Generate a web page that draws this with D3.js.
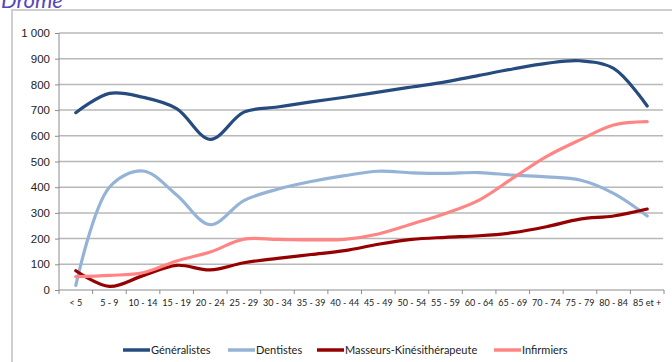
<!DOCTYPE html>
<html>
<head>
<meta charset="utf-8">
<script src="https://cdn.jsdelivr.net/npm/d3@7/dist/d3.min.js"></script>
<style>
  body { margin: 0; background: #fff; }
  svg { display: block; font-family: Lato, "Open Sans", sans-serif; }
</style>
</head>
<body>
<svg id="chart" width="672" height="362"></svg>
<script>
var categories = ["< 5", "5 - 9", "10 - 14", "15 - 19", "20 - 24", "25 - 29", "30 - 34", "35 - 39", "40 - 44",
    "45 - 49", "50 - 54", "55 - 59", "60 - 64", "65 - 69", "70 - 74", "75 - 79", "80 - 84", "85 et +"];
var seriesNames = ["Généralistes", "Dentistes", "Masseurs-Kinésithérapeute", "Infirmiers"];
var generalistes = [690, 765, 750, 706, 586, 692, 712, 732, 750, 770, 790, 810, 835, 860, 882, 892, 862, 716];
var dentistes = [18, 400, 463, 370, 254, 348, 392, 422, 445, 462, 456, 454, 457, 447, 440, 428, 376, 288];
var masseurs = [75, 14, 56, 96, 78, 106, 123, 138, 153, 178, 197, 205, 211, 223, 246, 276, 288, 315];
var infirmiers = [52, 57, 67, 113, 148, 198, 197, 195, 197, 218, 257, 298, 350, 435, 519, 584, 642, 655];
var yTicks = [0, 100, 200, 300, 400, 500, 600, 700, 800, 900, 1000];
var colors = ["#254b7f", "#95b3d7", "#960000", "#ff8585"];

function draw() {
    var svg = d3.select("#chart");
    var mLeft = 59, mRight = 664, mTop = 33, mBottom = 290;

    // cadre + titre
    svg.append("rect")
        .attr("x", 12).attr("y", 10)
        .attr("width", 680).attr("height", 380)
        .attr("fill", "none").attr("stroke", "#cfcfcf").attr("stroke-width", 2);
    svg.append("text")
        .attr("x", 1).attr("y", 8)
        .attr("font-size", 22).attr("font-style", "italic")
        .attr("fill", "#5546bd")
        .text("Drôme");

    var x = d3.scaleBand().domain(categories).range([mLeft, mRight]);
    var y = d3.scaleLinear().domain([0, 1000]).range([mBottom, mTop]);

    // grille
    svg.append("g").selectAll("line")
        .data(yTicks.slice(1))
        .enter().append("line")
        .attr("x1", mLeft).attr("x2", mRight - 1)
        .attr("y1", d => y(d)).attr("y2", d => y(d))
        .attr("stroke", "#b8b8b8").attr("stroke-width", 1.5);

    // axe Y
    var yAxis = d3.axisLeft(y).tickValues(yTicks).tickSize(4)
        .tickFormat(d => d === 1000 ? "1 000" : d);
    var gy = svg.append("g").attr("transform", "translate(" + mLeft + ",0)").call(yAxis);
    gy.select(".domain").attr("stroke", "#8c8c8c").attr("d", "M0," + y(0) + "V" + y(1000));
    gy.selectAll(".tick line").attr("stroke", "#8c8c8c");
    gy.selectAll("text").attr("font-size", 11.5).attr("fill", "#222").attr("x", -9);

    // axe X
    var gx = svg.append("g").attr("transform", "translate(0," + mBottom + ")");
    gx.append("line").attr("x1", mLeft).attr("x2", mRight).attr("stroke", "#8c8c8c");
    gx.selectAll(".tk")
        .data(categories.concat(["fin"]))
        .enter().append("line")
        .attr("x1", (d, i) => mLeft + i * x.step()).attr("x2", (d, i) => mLeft + i * x.step())
        .attr("y1", 0).attr("y2", 4)
        .attr("stroke", "#8c8c8c");
    gx.selectAll("text")
        .data(categories)
        .enter().append("text")
        .attr("x", d => x(d) + x.bandwidth() / 2)
        .attr("y", 16)
        .attr("text-anchor", "middle")
        .attr("font-size", 9).attr("fill", "#222")
        .text(d => d);

    // courbes
    var series = [generalistes, dentistes, masseurs, infirmiers];
    var line = d3.line()
        .x((d, i) => x(categories[i]) + x.bandwidth() / 2)
        .y(d => y(d))
        .curve(d3.curveCatmullRom.alpha(0.5));
    svg.append("g").selectAll("path")
        .data(series)
        .enter().append("path")
        .attr("fill", "none")
        .attr("stroke", (d, i) => colors[i])
        .attr("stroke-width", 3.2)
        .attr("stroke-linecap", "round")
        .attr("d", d => line(d));

    // légende
    var legendX = [123, 228, 317, 494];
    var lg = svg.append("g").selectAll("g")
        .data(seriesNames)
        .enter().append("g")
        .attr("transform", (d, i) => "translate(" + legendX[i] + ",350)");
    lg.append("line")
        .attr("x1", 0).attr("x2", 27)
        .attr("stroke", (d, i) => colors[i]).attr("stroke-width", 3.5);
    lg.append("text")
        .attr("x", 28).attr("y", 4)
        .attr("font-size", 11).attr("fill", "#222")
        .text(d => d);
}
draw();
</script>
</body>
</html>
